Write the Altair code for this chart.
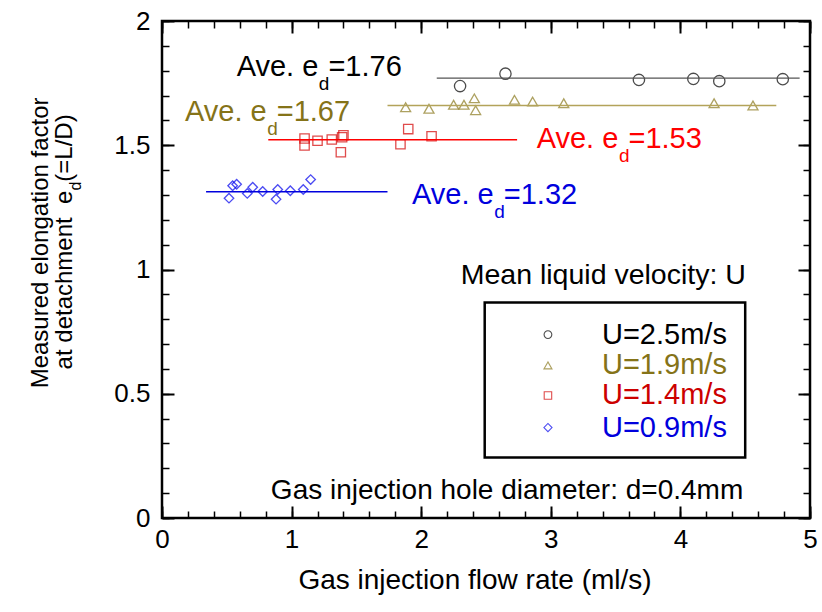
import altair as alt
import pandas as pd

FONT = "Liberation Sans"

# ---------------- data ----------------
series = ["U=2.5m/s", "U=1.9m/s", "U=1.4m/s", "U=0.9m/s"]
shapes = ["circle", "triangle-up", "square", "diamond"]
mark_colors = ["#000000", "#8B7A1E", "#D40000", "#0000EE"]
line_colors = ["#555555", "#B3A35A", "#FF0000", "#0000DD"]
text_colors = ["#000000", "#857318", "#FF0000", "#0000DD"]
legend_text_colors = ["#000000", "#857318", "#CC0000", "#0000DD"]
mark_sizes = [128, 100, 87, 90]
legend_sizes = [60, 64, 56, 66]

x_u25 = [2.30, 2.65, 3.68, 4.10, 4.30, 4.79]
y_u25 = [1.738, 1.788, 1.763, 1.767, 1.758, 1.766]
x_u19 = [1.88, 2.06, 2.25, 2.33, 2.41, 2.42, 2.72, 2.86, 3.10, 4.26, 4.56]
y_u19 = [1.653, 1.647, 1.663, 1.663, 1.689, 1.641, 1.683, 1.676, 1.669, 1.669, 1.660]
x_u14 = [1.10, 1.10, 1.20, 1.31, 1.39, 1.40, 1.38, 1.84, 1.90, 2.08]
y_u14 = [1.527, 1.499, 1.518, 1.523, 1.532, 1.540, 1.472, 1.504, 1.565, 1.536]
x_u09 = [0.517, 0.545, 0.576, 0.658, 0.700, 0.777, 0.880, 0.893, 0.990, 1.090, 1.147]
y_u09 = [1.287, 1.337, 1.343, 1.306, 1.331, 1.314, 1.283, 1.322, 1.317, 1.322, 1.362]

# average lines
avg_labels = ["1.76", "1.67", "1.53", "1.32"]
avg_y = [1.770, 1.660, 1.522, 1.313]
avg_x0 = [2.12, 1.74, 0.82, 0.34]
avg_x1 = [4.92, 4.74, 2.74, 1.74]

# annotation anchors (data coordinates, left/baseline of "Ave. e")
ann_x = [0.576, 0.177, 2.891, 1.929]
ann_y = [1.778, 1.598, 1.490, 1.262]
ann_size = [29, 29, 29, 29]

# legend placement (data coordinates)
legend_box = [2.49, 4.50, 0.867, 0.243]
legend_y = [0.738, 0.614, 0.493, 0.364]
legend_sym_x = 2.978
legend_txt_x = 3.395

# notes
note_texts = ["Mean liquid velocity: U", "Gas injection hole diameter: d=0.4mm"]
note_x = [2.305, 0.840]
note_y = [0.940, 0.078]
note_size = [28.5, 28]

# y title anchors
ytitle_x = [-0.880, -0.694]
ytitle_y = [1.107, 0.598]

x_major = [0, 1, 2, 3, 4, 5]
x_minor = [round(i * 0.2, 1) for i in range(26)]
y_major = [0, 0.5, 1, 1.5, 2]
y_minor = [round(i * 0.1, 1) for i in range(21)]

# ---------------- build tables ----------------
xs_all = [x_u25, x_u19, x_u14, x_u09]
ys_all = [y_u25, y_u19, y_u14, y_u09]
rows = []
for i in range(4):
    for xv, yv in zip(xs_all[i], ys_all[i]):
        rows.append({"x": xv, "y": yv, "shape": shapes[i], "color": mark_colors[i],
                     "size": mark_sizes[i]})
pts = pd.DataFrame(rows)

lines = pd.DataFrame({"x": avg_x0, "x2": avg_x1, "y": avg_y, "color": line_colors})

xs = alt.Scale(domain=[0, 5], nice=False, zero=False)
ys = alt.Scale(domain=[0, 2], nice=False, zero=False)


def X(axis=None, field="x"):
    return alt.X(f"{field}:Q", scale=xs, axis=axis)


def Y(axis=None, field="y"):
    return alt.Y(f"{field}:Q", scale=ys, axis=axis)


label_x_axis = alt.Axis(orient="bottom", values=x_major, format="~g", ticks=False, tickSize=0,
                        domain=False, grid=False, labelFont=FONT, labelFontSize=26,
                        labelColor="black", labelPadding=8, labelFlush=False, labelOverlap=False,
                        title="Gas injection flow rate (ml/s)", titleFont=FONT, titleFontSize=28,
                        titleFontWeight="normal", titleColor="black", titleX=312.5, titleY=70.5,
                        titleBaseline="alphabetic", titleAlign="center")
label_y_axis = alt.Axis(orient="left", values=y_major, format="~g", ticks=False, tickSize=0,
                        domain=False, grid=False, labelFont=FONT, labelFontSize=26,
                        labelColor="black", labelPadding=12, labelFlush=False, labelOverlap=False,
                        title=None)


def tick_axis(orient, values, size, width):
    return alt.Axis(orient=orient, values=values, tickSize=size, tickWidth=width, tickColor="black",
                    offset=-size, labels=False, domain=False, grid=False, title=None)


layers = []
layers.append(
    alt.Chart(pts).mark_point(filled=False, strokeWidth=1.3).encode(
        x=X(label_x_axis), y=Y(label_y_axis),
        shape=alt.Shape("shape:N", scale=None),
        color=alt.Color("color:N", scale=None),
        size=alt.Size("size:Q", scale=None),
    )
)

axdf = pd.DataFrame({"x": [0.0], "y": [0.0]})
for (ox, oy, vx, vy, sz, w) in [("bottom", "left", x_major, y_major, 12, 2),
                                ("bottom", "left", x_minor, y_minor, 7, 1.5),
                                ("top", "right", x_major, y_major, 12, 2),
                                ("top", "right", x_minor, y_minor, 7, 1.5)]:
    layers.append(
        alt.Chart(axdf).mark_point(opacity=0).encode(
            x=X(tick_axis(ox, vx, sz, w)), y=Y(tick_axis(oy, vy, sz, w))
        )
    )

layers.append(
    alt.Chart(lines).mark_rule(strokeWidth=1.4).encode(
        x=X(), x2="x2:Q", y=Y(), color=alt.Color("color:N", scale=None)
    )
)


def text_layer(df, text, size, color, dx=0, dy=0, align="left", baseline="alphabetic", angle=0):
    return alt.Chart(df).mark_text(text=text, font=FONT, fontSize=size, color=color, align=align,
                                   baseline=baseline, dx=dx, dy=dy, angle=angle).encode(x=X(), y=Y())


# average annotations: "Ave. e" + subscript d + "=value"
for i in range(4):
    fs = ann_size[i]
    sub = round(fs * 0.66)
    d = pd.DataFrame({"x": [ann_x[i]], "y": [ann_y[i]]})
    w_main = 2.835 * fs
    w_sub = 0.556 * sub
    layers.append(text_layer(d, "Ave. e", fs, text_colors[i]))
    layers.append(text_layer(d, "d", sub, text_colors[i], dx=w_main, dy=0.48 * fs))
    layers.append(text_layer(d, "=" + avg_labels[i], fs, text_colors[i], dx=w_main + w_sub - 1))

# notes
for i in range(2):
    d = pd.DataFrame({"x": [note_x[i]], "y": [note_y[i]]})
    layers.append(text_layer(d, note_texts[i], note_size[i], "black"))

# legend box
box = pd.DataFrame({"x": [legend_box[0]], "x2": [legend_box[1]], "y": [legend_box[2]],
                    "y2": [legend_box[3]]})
layers.append(
    alt.Chart(box).mark_rect(fillOpacity=0, stroke="black", strokeWidth=2.5).encode(
        x=X(), x2="x2:Q", y=Y(), y2="y2:Q"
    )
)
leg = pd.DataFrame({"x": [legend_sym_x] * 4, "tx": [legend_txt_x] * 4, "y": legend_y,
                    "shape": shapes, "color": mark_colors, "tcolor": legend_text_colors,
                    "size": legend_sizes, "label": series})
layers.append(
    alt.Chart(leg).mark_point(filled=False, strokeWidth=1.1).encode(
        x=X(), y=Y(), shape=alt.Shape("shape:N", scale=None),
        color=alt.Color("color:N", scale=None), size=alt.Size("size:Q", scale=None)
    )
)
layers.append(
    alt.Chart(leg).mark_text(font=FONT, fontSize=29, align="left", baseline="middle").encode(
        x=X(field="tx"), y=Y(), text="label:N", color=alt.Color("tcolor:N", scale=None)
    )
)

# y axis title (two lines, with subscript)
d1 = pd.DataFrame({"x": [ytitle_x[0]], "y": [ytitle_y[0]]})
d2 = pd.DataFrame({"x": [ytitle_x[1]], "y": [ytitle_y[1]]})
layers.append(text_layer(d1, "Measured elongation factor", 24, "black", align="center", angle=270))
w2 = 7.449 * 24
layers.append(text_layer(d2, "at detachment\u00a0\u00a0e", 24, "black", angle=270))
layers.append(text_layer(d2, "d", 16, "black", dx=w2, dy=9, angle=270))
layers.append(text_layer(d2, "\u00a0(=L/D)", 24, "black", dx=w2 + 8.9, angle=270))

chart = (
    alt.layer(*layers)
    .resolve_axis(x="independent", y="independent")
    .properties(width=648, height=497, autosize=alt.AutoSizeParams(type="none"),
                padding={"left": 162, "top": 21, "right": 12, "bottom": 94},
                background="white")
    .configure_view(stroke="black", strokeWidth=2.5)
)

chart.save("out.html", embed_options={"renderer": "svg", "actions": False})
